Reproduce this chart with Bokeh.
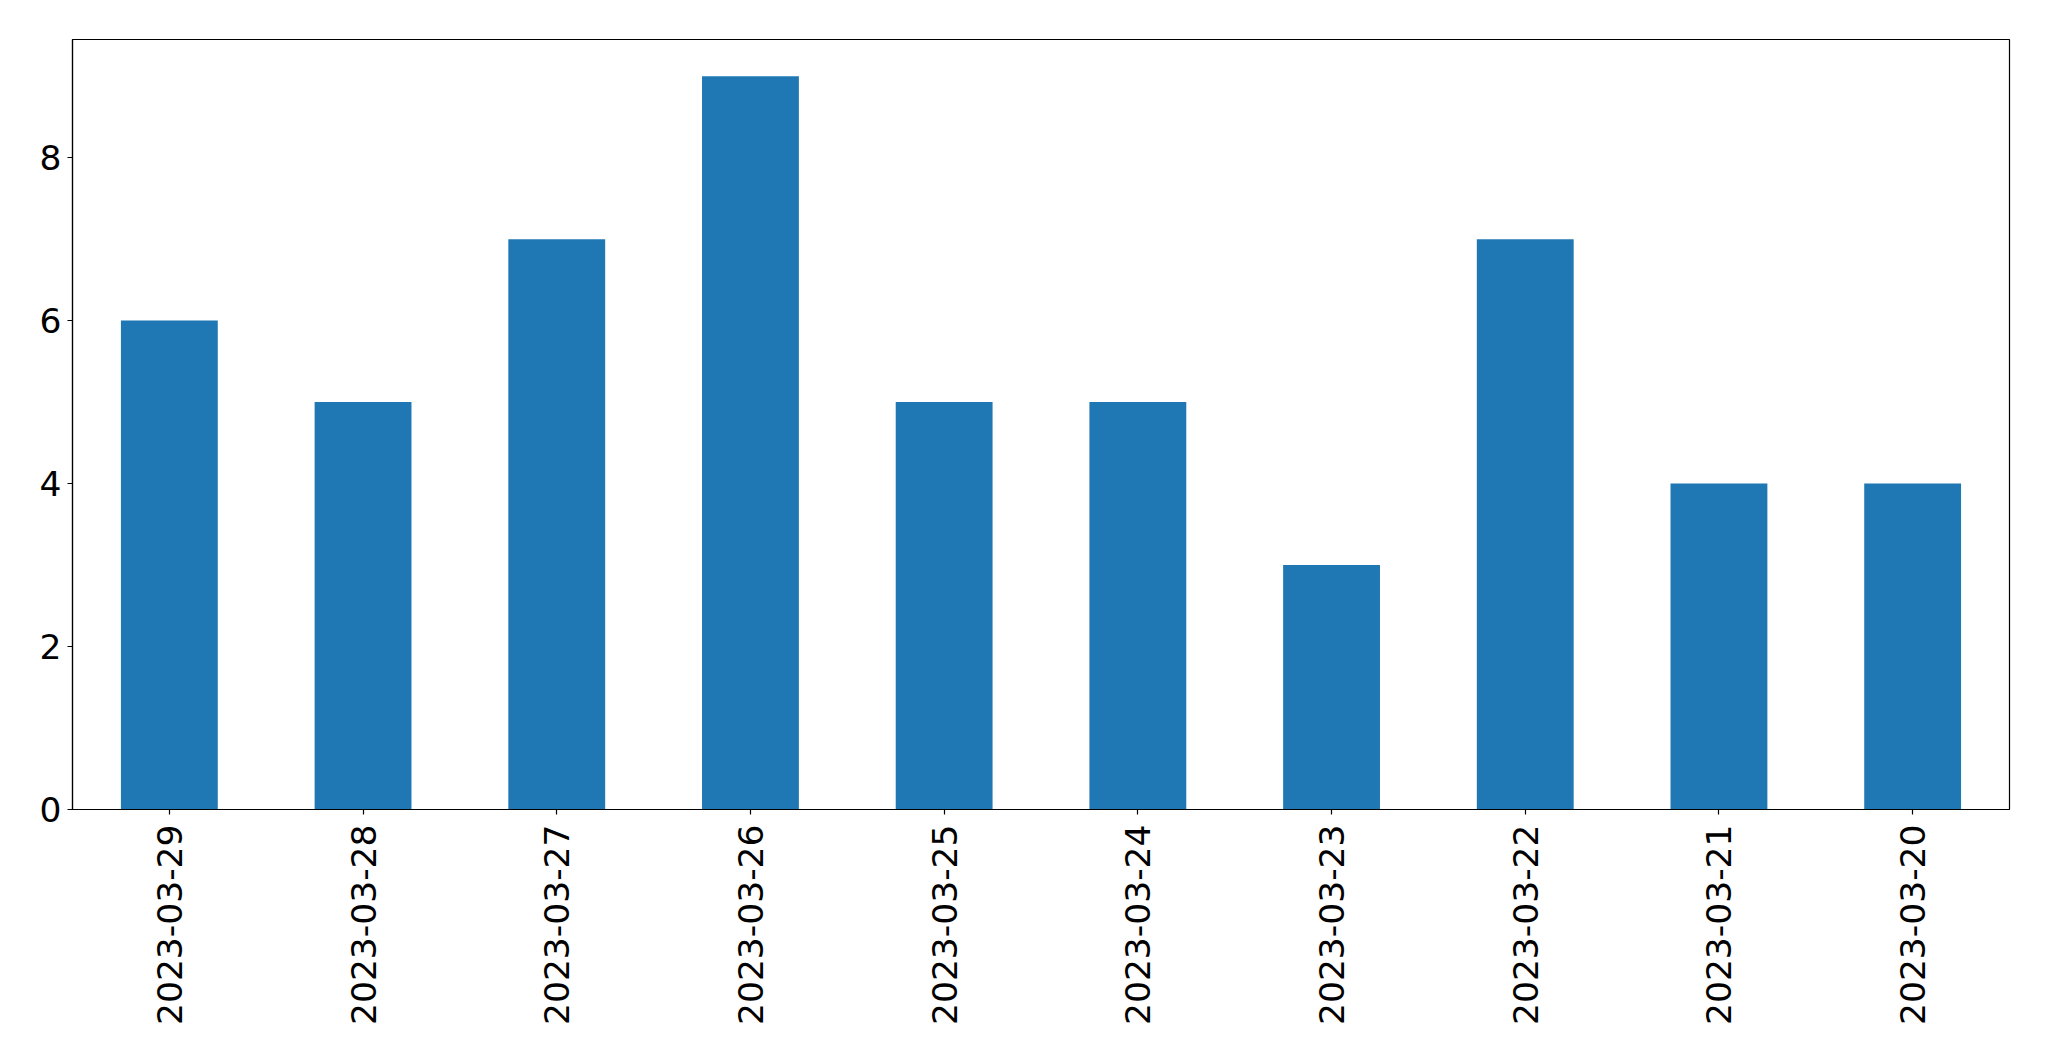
from math import pi
from bokeh.plotting import figure
from bokeh.models import FactorRange, Range1d, FixedTicker, ColumnDataSource
from bokeh.embed import file_html
from bokeh.resources import INLINE

dates = ["2023-03-29", "2023-03-28", "2023-03-27", "2023-03-26", "2023-03-25",
         "2023-03-24", "2023-03-23", "2023-03-22", "2023-03-21", "2023-03-20"]
counts = [6, 5, 7, 9, 5, 5, 3, 7, 4, 4]
y_ticks = [0, 2, 4, 6, 8]

source = ColumnDataSource(data=dict(date=dates, count=counts))

p = figure(
    x_range=FactorRange(factors=dates, range_padding=0),
    y_range=Range1d(0, max(counts) * 1.05),
    width=2040, height=1052,
    min_border_left=72, min_border_right=31, min_border_top=39, min_border_bottom=243,
    output_backend="svg", toolbar_location=None,
)

p.vbar(x="date", top="count", width=0.5, source=source,
       fill_color="#1f77b4", line_color=None)

p.xgrid.visible = False
p.ygrid.visible = False
p.outline_line_color = "black"
p.outline_line_width = 1.2
p.outline_line_alpha = 1.0
p.background_fill_color = "white"
p.border_fill_color = "white"

p.yaxis.ticker = FixedTicker(ticks=y_ticks)
p.yaxis.minor_tick_line_color = None

for ax in (p.xaxis, p.yaxis):
    ax.axis_line_color = "black"
    ax.axis_line_width = 1.2
    ax.major_tick_line_color = "black"
    ax.major_tick_line_width = 1.2
    ax.major_tick_out = 5
    ax.major_tick_in = 0
    ax.major_label_text_font = "DejaVu Sans"
    ax.major_label_text_font_size = "34.5px"
    ax.major_label_text_color = "black"

p.yaxis.major_label_standoff = 6
p.xaxis.major_label_standoff = 10
p.xaxis.major_label_orientation = pi / 2
p.x_range.range_padding = 0

open("out.html", "w").write(file_html(p, INLINE))
